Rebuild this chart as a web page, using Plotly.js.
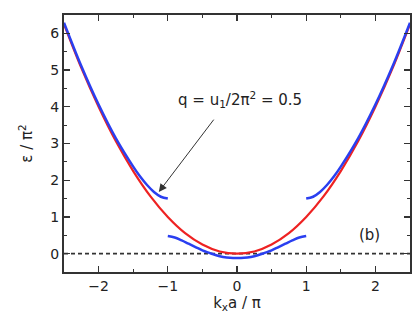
<!DOCTYPE html>
<html>
<head>
<meta charset="utf-8">
<script src="https://cdn.plot.ly/plotly-3.0.1.min.js"></script>
<style>html,body{margin:0;padding:0;background:#fff;}</style>
</head>
<body>
<div id="chart" style="width:415px;height:333px;"></div>
<script>
// free electron parabola, eps/pi^2 vs k_x a/pi
var kFree = [-2.5, -2.25, -2, -1.75, -1.5, -1.25, -1, -0.75, -0.5, -0.25, 0, 0.25, 0.5, 0.75, 1, 1.25, 1.5, 1.75, 2, 2.25, 2.5];
var eFree = [6.25, 5.06, 4, 3.06, 2.25, 1.56, 1, 0.56, 0.25, 0.06, 0, 0.06, 0.25, 0.56, 1, 1.56, 2.25, 3.06, 4, 5.06, 6.25];

// lowest band, q = 0.5
var kLow = [-1, -0.9, -0.8, -0.7, -0.6, -0.5, -0.4, -0.3, -0.2, -0.1, 0, 0.1, 0.2, 0.3, 0.4, 0.5, 0.6, 0.7, 0.8, 0.9, 1];
var eLow = [0.48, 0.44, 0.36, 0.27, 0.18, 0.09, 0.02, -0.045, -0.09, -0.115, -0.12, -0.115, -0.09, -0.045, 0.02, 0.09, 0.18, 0.27, 0.36, 0.44, 0.48];

// second band, right and left branches
var kUpR = [1, 1.1, 1.2, 1.3, 1.4, 1.5, 1.75, 2, 2.25, 2.5];
var eUpR = [1.5, 1.55, 1.68, 1.87, 2.1, 2.37, 3.14, 4.06, 5.11, 6.29];
var kUpL = [-1, -1.1, -1.2, -1.3, -1.4, -1.5, -1.75, -2, -2.25, -2.5];
var eUpL = [1.5, 1.55, 1.68, 1.87, 2.1, 2.37, 3.14, 4.06, 5.11, 6.29];

var zeroX = [-2.5, 2.5];
var zeroY = [0, 0];

var red = '#ee2222', blue = '#2a3ff0';
var fnt = 'DejaVu Sans, Liberation Sans, Arial';

var data = [
  {x: zeroX, y: zeroY, mode: 'lines', line: {color: '#333', width: 1.8, dash: '4px,3px'}, hoverinfo: 'skip'},
  {x: kFree, y: eFree, mode: 'lines', line: {color: red, width: 2.2, shape: 'spline'}},
  {x: kLow, y: eLow, mode: 'lines', line: {color: blue, width: 2.5, shape: 'spline'}},
  {x: kUpR, y: eUpR, mode: 'lines', line: {color: blue, width: 2.5, shape: 'spline'}},
  {x: kUpL, y: eUpL, mode: 'lines', line: {color: blue, width: 2.5, shape: 'spline'}}
];

var axisCommon = {
  showgrid: false, zeroline: false,
  showline: true, linecolor: '#333', linewidth: 2, mirror: 'ticks',
  ticks: 'inside', ticklen: 6, tickwidth: 1.2, tickcolor: '#333',
  tickfont: {family: fnt, size: 14, color: '#222'},
  minor: {ticks: 'inside', ticklen: 3, tickcolor: '#333', tickwidth: 1}
};

var layout = {
  width: 415, height: 333,
  margin: {l: 64, r: 5, t: 15, b: 61},
  paper_bgcolor: '#fff', plot_bgcolor: '#fff',
  showlegend: false,
  font: {family: fnt, size: 14, color: '#222'},
  xaxis: Object.assign({}, axisCommon, {
    range: [-2.5, 2.5], dtick: 1, tick0: 0,
    minor: Object.assign({}, axisCommon.minor, {dtick: 0.5}),
    title: {text: 'k<sub>x</sub>a / π', font: {size: 15}, standoff: 4}
  }),
  yaxis: Object.assign({}, axisCommon, {
    range: [-0.5, 6.5], dtick: 1, tick0: 0,
    minor: Object.assign({}, axisCommon.minor, {dtick: 0.5}),
    title: {text: 'ε / π<sup>2</sup>', font: {size: 15}, standoff: 14}
  }),
  annotations: [
    {x: -1.13, y: 1.68, ax: -0.32, ay: 3.69, xref: 'x', yref: 'y', axref: 'x', ayref: 'y',
     text: '', showarrow: true, arrowhead: 2, arrowsize: 1.6, arrowwidth: 1, arrowcolor: '#333'},
    {x: 0.04, y: 4.2, xref: 'x', yref: 'y', text: 'q = u<sub>1</sub>/2π<sup>2</sup> = 0.5',
     showarrow: false, font: {size: 15, color: '#222'}},
    {x: 1.91, y: 0.51, xref: 'x', yref: 'y', text: '(b)', showarrow: false, font: {size: 15, color: '#222'}}
  ]
};

Plotly.newPlot('chart', data, layout, {displayModeBar: false, staticPlot: true});
</script>
</body>
</html>
